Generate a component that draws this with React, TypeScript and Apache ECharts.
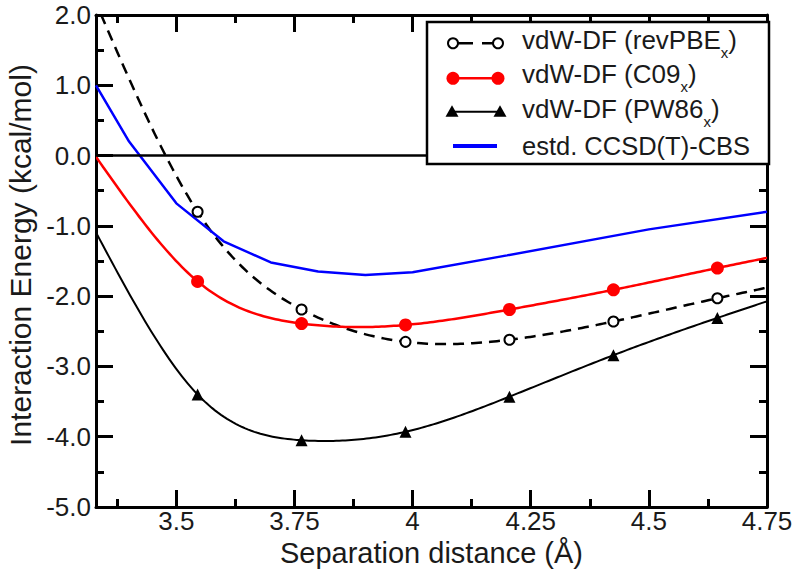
import React, { useEffect, useRef } from "react";
import * as echarts from "echarts";

const FONT = "'Liberation Sans', Arial, Helvetica, sans-serif";

// tick positions
const xMajorTicks = [3.5, 3.75, 4, 4.25, 4.5, 4.75];
const xMinorTicks = [3.375, 3.625, 3.875, 4.125, 4.375, 4.625];

// vdW-DF separations (first/last points lie just outside the visible range)
const dftX = [3.325, 3.545, 3.765, 3.985, 4.205, 4.425, 4.645, 4.865];
const revPBE = [2.25, -0.8, -2.19, -2.65, -2.62, -2.36, -2.03, -1.72];
const c09 = [0.03, -1.79, -2.39, -2.41, -2.19, -1.91, -1.6, -1.3];
const pw86 = [-1.03, -3.4, -4.05, -3.93, -3.43, -2.84, -2.31, -1.82];

// estimated CCSD(T)-CBS reference curve
const ccsdX = [3.33, 3.4, 3.5, 3.6, 3.7, 3.8, 3.9, 4.0, 4.2, 4.5, 4.75];
const ccsd = [1.0, 0.2, -0.68, -1.22, -1.52, -1.65, -1.7, -1.66, -1.42, -1.05, -0.8];

const legendNames = ["vdW-DF (revPBE", "vdW-DF (C09", "vdW-DF (PW86", "estd. CCSD(T)-CBS"];

// natural cubic spline through the points (used only for drawing the curve)
function spline(xs: number[], ys: number[]) {
  const n = xs.length;
  const h: number[] = [];
  for (let i = 0; i < n - 1; i++) h.push(xs[i + 1] - xs[i]);
  const a = new Array(n).fill(0), b = new Array(n).fill(1), c = new Array(n).fill(0), d = new Array(n).fill(0);
  for (let i = 1; i < n - 1; i++) {
    a[i] = h[i - 1];
    b[i] = 2 * (h[i - 1] + h[i]);
    c[i] = h[i];
    d[i] = 6 * ((ys[i + 1] - ys[i]) / h[i] - (ys[i] - ys[i - 1]) / h[i - 1]);
  }
  const cp = new Array(n).fill(0), dp = new Array(n).fill(0);
  cp[0] = c[0] / b[0];
  dp[0] = d[0] / b[0];
  for (let i = 1; i < n; i++) {
    const m = b[i] - a[i] * cp[i - 1];
    cp[i] = c[i] / m;
    dp[i] = (d[i] - a[i] * dp[i - 1]) / m;
  }
  const M = new Array(n).fill(0);
  M[n - 1] = dp[n - 1];
  for (let i = n - 2; i >= 0; i--) M[i] = dp[i] - cp[i] * M[i + 1];
  return (x: number) => {
    let i = 0;
    while (i < n - 2 && x > xs[i + 1]) i++;
    const hi = h[i];
    const t1 = xs[i + 1] - x, t0 = x - xs[i];
    return (
      (M[i] * t1 * t1 * t1) / (6 * hi) +
      (M[i + 1] * t0 * t0 * t0) / (6 * hi) +
      (ys[i] / hi - (M[i] * hi) / 6) * t1 +
      (ys[i + 1] / hi - (M[i + 1] * hi) / 6) * t0
    );
  };
}

function pts(xs: number[], ys: number[]) {
  return xs.map((x, i) =>
    i === 0 || i === xs.length - 1 ? { value: [x, ys[i]], symbol: "none" } : [x, ys[i]]
  );
}

function curveSeries(xs: number[], ys: number[], stroke: string, width: number, dash?: number[]) {
  const f = spline(xs, ys);
  return {
    type: "custom",
    coordinateSystem: "cartesian2d",
    clip: true,
    silent: true,
    z: 2,
    data: xs.map((x, i) => [x, ys[i]]),
    encode: { x: 0, y: 1 },
    renderItem: (params: any, api: any) => {
      if (params.dataIndex !== 0) return null;
      const points: number[][] = [];
      const steps = 240;
      for (let k = 0; k <= steps; k++) {
        const x = xs[0] + ((xs[xs.length - 1] - xs[0]) * k) / steps;
        points.push(api.coord([x, f(x)]));
      }
      return {
        type: "polyline",
        shape: { points },
        style: { stroke, lineWidth: width, fill: "none", lineDash: dash || null },
      };
    },
  };
}

export default function App() {
  const ref = useRef<HTMLDivElement>(null);
  useEffect(() => {
    if (!ref.current) return;
    const chart = echarts.init(ref.current, null, { renderer: "svg" });
    const axisLine = { onZero: false, lineStyle: { color: "#000", width: 3 } };
    const tickLine = { color: "#000", width: 3 };
    const labelStyle = { fontFamily: FONT, fontSize: 26, color: "#1a1a1a" };
    const xBase = { type: "value", min: 3.33, max: 4.75, splitLine: { show: false } };
    const yBase = { type: "value", min: -5, max: 2, interval: 1, splitLine: { show: false }, minorSplitLine: { show: false } };

    const subRich = {
      a: { fontFamily: FONT, fontSize: 26, lineHeight: 22, padding: [0, 0, 10, 0], fill: "#1a1a1a" },
      s: { fontFamily: FONT, fontSize: 15, lineHeight: 8, padding: [15, 0, 0, 0], fill: "#1a1a1a" },
    };
    const rowText = [39.5, 74.2, 109];
    const rowIcon = [43.3, 78.3, 111.7, 146];
    const tri = (x: number, y: number) => [[x - 6.5, y + 5], [x + 6.5, y + 5], [x, y - 6.5]];

    const graphics: any[] = [
      { type: "rect", z: 100, shape: { x: 427, y: 22, width: 342, height: 142 }, style: { fill: "#fff", stroke: "#000", lineWidth: 2.5 } },
      // row 1
      { type: "line", z: 101, shape: { x1: 457, y1: rowIcon[0], x2: 494, y2: rowIcon[0] }, style: { stroke: "#000", lineWidth: 2.5, lineDash: [16, 9] } },
      { type: "circle", z: 102, shape: { cx: 453, cy: rowIcon[0], r: 5 }, style: { fill: "#fff", stroke: "#000", lineWidth: 2 } },
      { type: "circle", z: 102, shape: { cx: 498, cy: rowIcon[0], r: 5 }, style: { fill: "#fff", stroke: "#000", lineWidth: 2 } },
      // row 2
      { type: "line", z: 101, shape: { x1: 453, y1: rowIcon[1], x2: 498, y2: rowIcon[1] }, style: { stroke: "#ff0000", lineWidth: 2.5 } },
      { type: "circle", z: 102, shape: { cx: 453, cy: rowIcon[1], r: 6.5 }, style: { fill: "#ff0000" } },
      { type: "circle", z: 102, shape: { cx: 498, cy: rowIcon[1], r: 6.5 }, style: { fill: "#ff0000" } },
      // row 3
      { type: "line", z: 101, shape: { x1: 452, y1: rowIcon[2], x2: 500, y2: rowIcon[2] }, style: { stroke: "#000", lineWidth: 2 } },
      { type: "polygon", z: 102, shape: { points: tri(452, rowIcon[2]) }, style: { fill: "#000" } },
      { type: "polygon", z: 102, shape: { points: tri(500, rowIcon[2]) }, style: { fill: "#000" } },
      // row 4
      { type: "line", z: 101, shape: { x1: 453, y1: rowIcon[3], x2: 497, y2: rowIcon[3] }, style: { stroke: "#0000ff", lineWidth: 4 } },
    ];
    for (let i = 0; i < 3; i++) {
      graphics.push({
        type: "text",
        z: 103,
        x: 522,
        y: rowText[i] + 5,
        style: {
          text: `{a|${legendNames[i]}}{s|x}{a|)}`,
          rich: subRich,
          verticalAlign: "middle",
          align: "left",
        },
      });
    }
    graphics.push({
      type: "text",
      z: 103,
      x: 522,
      y: 145.8,
      style: { text: legendNames[3], fontFamily: FONT, fontSize: 25.5, fill: "#1a1a1a", verticalAlign: "middle", align: "left" },
    });

    const markerOnly = { color: "#000", width: 0, opacity: 0 };

    chart.setOption({
      animation: false,
      backgroundColor: "#fff",
      grid: { left: 96, top: 15, width: 671, height: 492, containLabel: false, outerBoundsMode: "none" },
      xAxis: [
        {
          ...xBase,
          position: "bottom",
          axisLine,
          axisTick: { inside: true, length: 17, lineStyle: tickLine, customValues: xMajorTicks },
          axisLabel: { ...labelStyle, margin: 1, customValues: xMajorTicks },
          name: "Separation distance (Å)",
          nameLocation: "middle",
          nameGap: 30,
          nameTextStyle: { fontFamily: FONT, fontSize: 29, color: "#1a1a1a" },
        },
        {
          ...xBase,
          position: "bottom",
          axisLine: { show: false, onZero: false },
          axisTick: { inside: true, length: 8, lineStyle: tickLine, customValues: xMinorTicks },
          axisLabel: { show: false },
        },
        {
          ...xBase,
          position: "top",
          axisLine,
          axisTick: { inside: true, length: 17, lineStyle: tickLine, customValues: xMajorTicks },
          axisLabel: { show: false },
        },
        {
          ...xBase,
          position: "top",
          axisLine: { show: false, onZero: false },
          axisTick: { inside: true, length: 8, lineStyle: tickLine, customValues: xMinorTicks },
          axisLabel: { show: false },
        },
      ],
      yAxis: [
        {
          ...yBase,
          position: "left",
          axisLine,
          axisTick: { inside: true, length: 17, lineStyle: tickLine },
          minorTick: { show: true, splitNumber: 2, length: 8, lineStyle: tickLine },
          axisLabel: { ...labelStyle, margin: 5, formatter: (v: number) => v.toFixed(1) },
          name: "Interaction Energy (kcal/mol)",
          nameLocation: "middle",
          nameGap: 58,
          nameTextStyle: { fontFamily: FONT, fontSize: 30, color: "#1a1a1a", padding: [0, 0, 0, 12] },
        },
        {
          ...yBase,
          position: "right",
          axisLine,
          axisTick: { inside: true, length: 17, lineStyle: tickLine },
          minorTick: { show: true, splitNumber: 2, length: 8, lineStyle: tickLine },
          axisLabel: { show: false },
        },
      ],
      series: [
        curveSeries(dftX, revPBE, "#000", 2.5, [11, 7]),
        curveSeries(dftX, c09, "#ff0000", 2.5),
        curveSeries(dftX, pw86, "#000", 2),
        {
          name: "revPBE",
          type: "line",
          data: pts(dftX, revPBE),
          symbol: "circle",
          symbolSize: 10,
          itemStyle: { color: "#fff", borderColor: "#000", borderWidth: 2 },
          lineStyle: markerOnly,
          z: 5,
          markLine: {
            silent: true,
            symbol: ["none", "none"],
            label: { show: false },
            lineStyle: { color: "#000", width: 2.5, type: "solid", opacity: 1 },
            data: [{ yAxis: 0 }],
          },
        },
        {
          name: "C09",
          type: "line",
          data: pts(dftX, c09),
          symbol: "circle",
          symbolSize: 13,
          itemStyle: { color: "#ff0000" },
          lineStyle: markerOnly,
          z: 5,
        },
        {
          name: "PW86",
          type: "line",
          data: pts(dftX, pw86),
          symbol: "triangle",
          symbolSize: 12,
          itemStyle: { color: "#000" },
          lineStyle: markerOnly,
          z: 5,
        },
        {
          name: "CCSD",
          type: "line",
          data: ccsdX.map((x, i) => [x, ccsd[i]]),
          showSymbol: false,
          symbol: "none",
          lineStyle: { color: "#0000ff", width: 2.5 },
          z: 4,
        },
      ],
      graphic: graphics,
    });
    return () => chart.dispose();
  }, []);
  return <div ref={ref} style={{ position: "absolute", left: 0, top: 0, width: 795, height: 579 }} />;
}
